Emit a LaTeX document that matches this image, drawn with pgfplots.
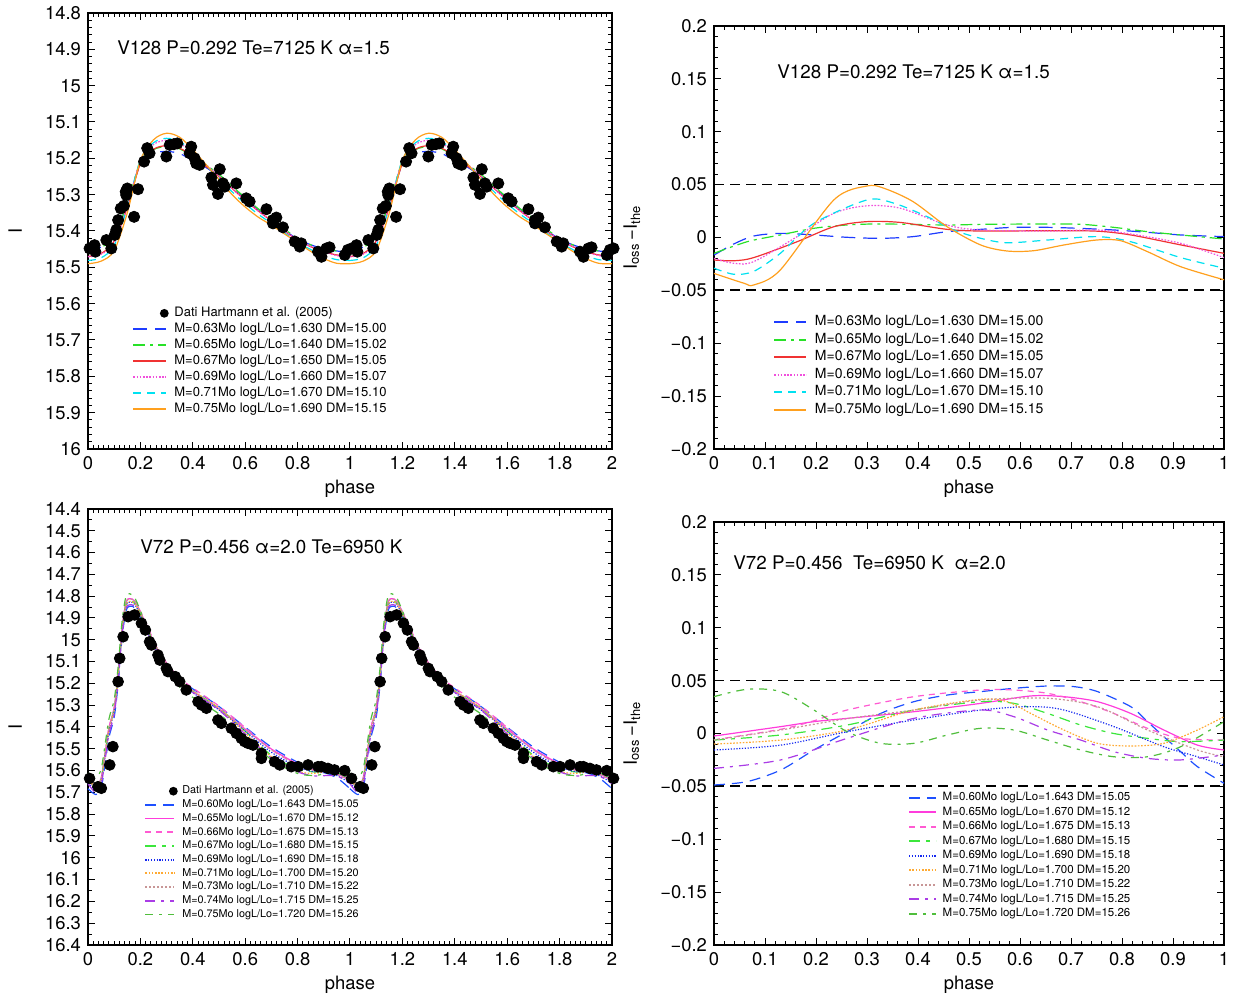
\documentclass[border=0pt]{standalone}
\usepackage{fontspec}
\setmainfont{TeX Gyre Heros}
\usepackage{pgfplots}
\usepackage{pgfplotstable}
\pgfplotsset{compat=1.18}

\definecolor{cBlue}{RGB}{30,60,255}
\definecolor{cGreen}{RGB}{40,225,40}
\definecolor{cRed}{RGB}{240,50,50}
\definecolor{cMag}{RGB}{240,80,220}
\definecolor{cCyan}{RGB}{0,225,240}
\definecolor{cOrange}{RGB}{255,160,30}
\definecolor{dBlue}{RGB}{30,80,255}
\definecolor{dPink}{RGB}{255,60,220}
\definecolor{dPinkD}{RGB}{255,90,210}
\definecolor{dGreen}{RGB}{60,230,60}
\definecolor{dBlueDot}{RGB}{20,40,240}
\definecolor{dOrange}{RGB}{255,170,50}
\definecolor{dRosy}{RGB}{200,150,150}
\definecolor{dPurple}{RGB}{170,60,230}
\definecolor{dGreenB}{RGB}{80,190,60}

\pgfplotstableread{
p I
0.006 15.448
0.025 15.439
0.028 15.457
0.070 15.425
0.089 15.448
0.102 15.411
0.108 15.397
0.115 15.370
0.125 15.338
0.137 15.331
0.144 15.292
0.150 15.283
0.146 15.301
0.176 15.361
0.191 15.285
0.214 15.209
0.226 15.172
0.235 15.186
0.299 15.195
0.312 15.163
0.328 15.161
0.341 15.159
0.394 15.168
0.388 15.186
0.407 15.200
0.413 15.214
0.426 15.218
0.471 15.253
0.477 15.273
0.496 15.298
0.503 15.230
0.515 15.269
0.522 15.278
0.566 15.269
0.604 15.310
0.617 15.319
0.681 15.340
0.706 15.370
0.719 15.363
0.706 15.379
0.744 15.390
0.789 15.429
0.808 15.443
0.814 15.434
0.878 15.457
0.891 15.471
0.910 15.448
0.922 15.445
0.980 15.466
0.992 15.452
}\tldata

\pgfplotstableread{
p m63 m65 m67 m69 m71 m75
0.00 15.460 15.460 15.470 15.471 15.481 15.490
0.05 15.444 15.446 15.462 15.464 15.474 15.483
0.10 15.410 15.412 15.428 15.433 15.440 15.454
0.15 15.325 15.324 15.335 15.332 15.335 15.350
0.20 15.216 15.209 15.215 15.206 15.204 15.206
0.25 15.187 15.176 15.175 15.162 15.157 15.149
0.30 15.181 15.168 15.165 15.150 15.145 15.131
0.35 15.187 15.174 15.172 15.158 15.154 15.142
0.40 15.206 15.195 15.195 15.186 15.183 15.176
0.45 15.225 15.218 15.222 15.217 15.219 15.217
0.50 15.250 15.244 15.250 15.249 15.255 15.258
0.55 15.281 15.277 15.283 15.283 15.292 15.300
0.60 15.311 15.308 15.315 15.315 15.325 15.334
0.65 15.342 15.339 15.345 15.345 15.354 15.362
0.70 15.369 15.366 15.372 15.372 15.379 15.384
0.75 15.398 15.395 15.400 15.399 15.405 15.408
0.80 15.422 15.420 15.425 15.425 15.431 15.432
0.85 15.438 15.438 15.443 15.443 15.451 15.456
0.90 15.449 15.449 15.457 15.457 15.468 15.476
0.95 15.455 15.455 15.466 15.468 15.479 15.489
1.00 15.460 15.460 15.470 15.471 15.481 15.490
}\tlmod

\pgfplotstableread{
p I
0.006 15.636
0.038 15.674
0.051 15.681
0.083 15.574
0.095 15.490
0.115 15.192
0.121 15.085
0.134 14.986
0.153 14.894
0.178 14.886
0.204 14.924
0.219 14.955
0.235 15.009
0.242 15.024
0.267 15.070
0.274 15.093
0.299 15.131
0.305 15.146
0.333 15.169
0.350 15.192
0.375 15.230
0.420 15.284
0.433 15.299
0.452 15.314
0.496 15.368
0.509 15.383
0.547 15.406
0.566 15.429
0.585 15.452
0.598 15.467
0.611 15.475
0.630 15.483
0.662 15.521
0.662 15.544
0.712 15.559
0.732 15.574
0.776 15.582
0.802 15.582
0.840 15.574
0.878 15.582
0.891 15.582
0.916 15.590
0.941 15.597
0.980 15.600
}\bldata

\pgfplotstableread{
p m60 m65 m66 m67 m69 m71 m73 m74 m75
0.00 15.683 15.644 15.641 15.641 15.658 15.632 15.649 15.660 15.612
0.03 15.710 15.670 15.674 15.675 15.685 15.679 15.674 15.701 15.631
0.05 15.682 15.634 15.638 15.639 15.649 15.644 15.638 15.665 15.594
0.065 15.571 15.523 15.527 15.528 15.539 15.533 15.527 15.554 15.483
0.08 15.448 15.402 15.406 15.408 15.418 15.413 15.406 15.433 15.363
0.10 15.355 15.311 15.314 15.317 15.327 15.322 15.314 15.342 15.274
0.115 15.202 15.160 15.162 15.167 15.177 15.172 15.163 15.191 15.125
0.13 14.990 14.949 14.951 14.956 14.966 14.961 14.952 14.980 14.915
0.145 14.868 14.829 14.831 14.838 14.846 14.842 14.832 14.859 14.801
0.16 14.846 14.811 14.812 14.820 14.827 14.824 14.813 14.839 14.789
0.18 14.855 14.825 14.825 14.834 14.840 14.837 14.826 14.850 14.811
0.21 14.922 14.898 14.895 14.906 14.912 14.910 14.899 14.919 14.897
0.25 15.021 15.006 14.999 15.013 15.018 15.016 15.006 15.022 15.015
0.30 15.121 15.117 15.106 15.122 15.126 15.122 15.115 15.127 15.139
0.35 15.184 15.189 15.175 15.190 15.196 15.189 15.187 15.196 15.217
0.40 15.225 15.236 15.221 15.235 15.243 15.234 15.234 15.242 15.264
0.50 15.306 15.317 15.304 15.315 15.322 15.313 15.314 15.323 15.340
0.60 15.401 15.410 15.403 15.419 15.419 15.427 15.411 15.432 15.443
0.70 15.492 15.501 15.504 15.530 15.516 15.536 15.505 15.543 15.550
0.80 15.562 15.569 15.574 15.592 15.583 15.603 15.573 15.606 15.613
0.87 15.600 15.598 15.600 15.607 15.607 15.612 15.601 15.625 15.622
0.92 15.616 15.604 15.601 15.605 15.611 15.600 15.607 15.622 15.608
0.96 15.642 15.620 15.612 15.614 15.628 15.600 15.623 15.630 15.608
1.00 15.683 15.644 15.641 15.641 15.658 15.632 15.649 15.660 15.612
}\blmod

\tikzset{ttl/.style={anchor=west, inner sep=0pt, font=\fontsize{9.4}{11}\selectfont}}
\pgfplotsset{
  common/.style={
    scale only axis, clip=false,
    tick align=inside, tick pos=both,
    major tick length=3.5pt, minor tick length=2pt,
    axis line style={line width=0.6pt},
    every tick/.style={black, line width=0.5pt},
    tick label style={font=\fontsize{9.2}{11}\selectfont},
    label style={font=\fontsize{9.2}{11}\selectfont},
    /pgf/number format/assume math mode=true,
    legend cell align=left,
  },
  crv/.style={line width=0.6pt, smooth, tension=0.5, mark=none},
  lg/.style n args={3}{legend image code/.code={%
    \pgfsetlinewidth{0.9pt}\pgfsetstrokecolor{#1}\pgfsetcolor{#1}\pgfsetdash{#2}{0pt}%
    \pgfpathmoveto{\pgfpointorigin}\pgfpathlineto{\pgfpoint{#3}{0pt}}\pgfusepath{stroke}}},
  dotleg/.style n args={2}{legend image code/.code={%
    \pgfpathmoveto{\pgfpointorigin}\pgfpathlineto{\pgfpoint{#1}{0pt}}\pgfusepath{discard}%
    \pgfsetfillcolor{black}\pgfpathcircle{\pgfpoint{#2}{0pt}}{2.2pt}\pgfusepath{fill}}},
}

\begin{document}
\begin{tikzpicture}
\useasboundingbox (0,0) rectangle (622pt,500pt);

%% ---------------- top left
\begin{axis}[common, at={(44pt,275.5pt)}, anchor=south west,
  width=262pt, height=218pt,
  xmin=0, xmax=2, ymin=14.8, ymax=16, y dir=reverse,
  xtick={0,0.2,0.4,0.6,0.8,1,1.2,1.4,1.6,1.8,2},
  ytick={14.8,14.9,15,15.1,15.2,15.3,15.4,15.5,15.6,15.7,15.8,15.9,16},
  minor x tick num=9, minor y tick num=4,
  xlabel={phase}, ylabel={I},
  xlabel style={at={(axis description cs:0.5,-0.0917)}, anchor=center},
  ylabel style={at={(axis description cs:-0.139,0.5)}, anchor=center},
  legend style={draw=none, fill=none, inner sep=0pt, column sep=2pt,
    at={(axis description cs:0.084,0.3304)}, anchor=north west,
    font=\fontsize{6.5}{7}\selectfont,
    nodes={inner sep=0.85pt, text height=4.8pt, text depth=1.5pt}},
]
\addplot[only marks, mark=*, mark size=2.8pt, black, dotleg={16.5pt}{15.5pt}]
  table[x=p,y=I]{\tldata};
\addlegendentry{Dati Hartmann et al. (2005)}
\addplot[only marks, mark=*, mark size=2.8pt, black, forget plot] table[x expr=\thisrow{p}+1,y=I]{\tldata};
\addplot[only marks, mark=*, mark size=2.8pt, black, forget plot, restrict x to domain=1.99:2.02] table[x expr=\thisrow{p}+2,y=I]{\tldata};

\addplot[crv, cBlue, dash pattern=on 7pt off 4pt, lg={cBlue}{{7pt}{4pt}}{16.5pt}] table[x=p,y=m63]{\tlmod};
\addlegendentry{M=0.63Mo logL/Lo=1.630 DM=15.00}
\addplot[crv, cBlue, dash pattern=on 7pt off 4pt, forget plot] table[x expr=\thisrow{p}+1,y=m63]{\tlmod};
\addplot[crv, cGreen, dash pattern=on 6pt off 2.5pt on 1.5pt off 2.5pt, lg={cGreen}{{6pt}{2.5pt}{1.5pt}{2.5pt}}{16.5pt}] table[x=p,y=m65]{\tlmod};
\addlegendentry{M=0.65Mo logL/Lo=1.640 DM=15.02}
\addplot[crv, cGreen, dash pattern=on 6pt off 2.5pt on 1.5pt off 2.5pt, forget plot] table[x expr=\thisrow{p}+1,y=m65]{\tlmod};
\addplot[crv, cRed, lg={cRed}{}{16.5pt}] table[x=p,y=m67]{\tlmod};
\addlegendentry{M=0.67Mo logL/Lo=1.650 DM=15.05}
\addplot[crv, cRed, forget plot] table[x expr=\thisrow{p}+1,y=m67]{\tlmod};
\addplot[crv, cMag, dash pattern=on 0.8pt off 0.8pt, lg={cMag}{{0.8pt}{0.8pt}}{16.5pt}] table[x=p,y=m69]{\tlmod};
\addlegendentry{M=0.69Mo logL/Lo=1.660 DM=15.07}
\addplot[crv, cMag, dash pattern=on 0.8pt off 0.8pt, forget plot] table[x expr=\thisrow{p}+1,y=m69]{\tlmod};
\addplot[crv, cCyan, dash pattern=on 4pt off 3pt, lg={cCyan}{{4pt}{3pt}}{16.5pt}] table[x=p,y=m71]{\tlmod};
\addlegendentry{M=0.71Mo logL/Lo=1.670 DM=15.10}
\addplot[crv, cCyan, dash pattern=on 4pt off 3pt, forget plot] table[x expr=\thisrow{p}+1,y=m71]{\tlmod};
\addplot[crv, cOrange, lg={cOrange}{}{16.5pt}] table[x=p,y=m75]{\tlmod};
\addlegendentry{M=0.75Mo logL/Lo=1.690 DM=15.15}
\addplot[crv, cOrange, forget plot] table[x expr=\thisrow{p}+1,y=m75]{\tlmod};

\node[ttl] at (axis description cs:0.0553,0.92) {V128 P=0.292 Te=7125 K α=1.5};
\end{axis}

%% ---------------- top right
\begin{axis}[common, at={(357pt,275.5pt)}, anchor=south west,
  width=255pt, height=211.5pt,
  xmin=0, xmax=1, ymin=-0.2, ymax=0.2,
  xtick={0,0.1,0.2,0.3,0.4,0.5,0.6,0.7,0.8,0.9,1},
  ytick={-0.2,-0.15,-0.1,-0.05,0,0.05,0.1,0.15,0.2},
  yticklabels={−0.2,−0.15,−0.1,−0.05,0,0.05,0.1,0.15,0.2},
  minor x tick num=4, minor y tick num=4,
  xlabel={phase}, ylabel={I\textsubscript{oss}\,−I\textsubscript{the}},
  xlabel style={at={(axis description cs:0.5,-0.0946)}, anchor=center},
  ylabel style={at={(axis description cs:-0.161,0.5)}, anchor=center},
  legend style={draw=none, fill=none, inner sep=0pt, column sep=3pt,
    at={(axis description cs:0.1157,0.3213)}, anchor=north west,
    font=\fontsize{7}{8}\selectfont,
    nodes={inner sep=0.875pt, text height=5.3pt, text depth=1.7pt}},
]
\addplot[black, line width=0.6pt, dash pattern=on 5pt off 3pt, forget plot] coordinates {(0,0.05) (1,0.05)};
\addplot[black, line width=0.6pt, dash pattern=on 5pt off 3pt, forget plot] coordinates {(0,-0.0497) (1,-0.0497)};

\addplot[crv, cBlue, dash pattern=on 7pt off 4pt, lg={cBlue}{{7pt}{4pt}}{16pt}] coordinates {(0,-0.0166) (0.039,-0.0061) (0.078,0.0014) (0.13,0.0039) (0.196,0.0024) (0.26,0.0002) (0.327,-0.0008) (0.39,0.0008) (0.457,0.0055) (0.523,0.0077) (0.588,0.0096) (0.654,0.0096) (0.719,0.0086) (0.784,0.0071) (0.85,0.0049) (0.915,0.0024) (1.0,0.0008)};
\addlegendentry{M=0.63Mo logL/Lo=1.630 DM=15.00}
\addplot[crv, cGreen, dash pattern=on 6pt off 2.5pt on 1.5pt off 2.5pt, lg={cGreen}{{6pt}{2.5pt}{1.5pt}{2.5pt}}{16pt}] coordinates {(0,-0.015) (0.065,-0.004) (0.13,0.0024) (0.196,0.0087) (0.26,0.0118) (0.327,0.0128) (0.457,0.0118) (0.523,0.0124) (0.654,0.0128) (0.719,0.0125) (0.784,0.0096) (0.85,0.0055) (0.915,0.0024) (1.0,-0.0014)};
\addlegendentry{M=0.65Mo logL/Lo=1.640 DM=15.02}
\addplot[crv, cRed, lg={cRed}{}{16pt}] coordinates {(0,-0.0213) (0.039,-0.022) (0.078,-0.019) (0.163,-0.004) (0.235,0.0102) (0.30,0.015) (0.366,0.0142) (0.457,0.0077) (0.523,0.0061) (0.654,0.0064) (0.75,0.006) (0.817,0.0024) (0.915,-0.007) (1.0,-0.015)};
\addlegendentry{M=0.67Mo logL/Lo=1.650 DM=15.05}
\addplot[crv, cMag, dash pattern=on 0.8pt off 0.8pt, lg={cMag}{{0.8pt}{0.8pt}}{16pt}] coordinates {(0,-0.0197) (0.039,-0.0244) (0.078,-0.0228) (0.163,0.0008) (0.235,0.0229) (0.30,0.030) (0.366,0.0276) (0.457,0.0118) (0.523,0.0071) (0.654,0.0061) (0.75,0.0071) (0.817,0.0033) (0.915,-0.0055) (1.0,-0.019)};
\addlegendentry{M=0.69Mo logL/Lo=1.660 DM=15.07}
\addplot[crv, cCyan, dash pattern=on 4pt off 3pt, lg={cCyan}{{4pt}{3pt}}{16pt}] coordinates {(0,-0.029) (0.039,-0.0348) (0.078,-0.032) (0.13,-0.015) (0.196,0.0134) (0.30,0.0355) (0.353,0.0324) (0.418,0.0197) (0.47,0.0071) (0.523,-0.0008) (0.575,-0.005) (0.654,-0.0024) (0.75,0.0008) (0.817,-0.004) (0.915,-0.019) (1.0,-0.029)};
\addlegendentry{M=0.71Mo logL/Lo=1.670 DM=15.10}
\addplot[crv, cOrange, lg={cOrange}{}{16pt}] coordinates {(0,-0.034) (0.059,-0.0433) (0.078,-0.0449) (0.13,-0.0307) (0.235,0.0355) (0.30,0.0487) (0.333,0.0466) (0.39,0.034) (0.457,0.0102) (0.523,-0.0071) (0.575,-0.0128) (0.627,-0.0125) (0.686,-0.0071) (0.75,-0.0024) (0.797,-0.003) (0.85,-0.0134) (0.915,-0.0276) (1.0,-0.040)};
\addlegendentry{M=0.75Mo logL/Lo=1.690 DM=15.15}

\node[ttl] at (axis description cs:0.1235,0.891) {V128 P=0.292 Te=7125 K α=1.5};
\end{axis}

%% ---------------- bottom left
\begin{axis}[common, at={(44pt,27.5pt)}, anchor=south west,
  width=262pt, height=218pt,
  xmin=0, xmax=2, ymin=14.4, ymax=16.4, y dir=reverse,
  xtick={0,0.2,0.4,0.6,0.8,1,1.2,1.4,1.6,1.8,2},
  ytick={14.4,14.5,14.6,14.7,14.8,14.9,15,15.1,15.2,15.3,15.4,15.5,15.6,15.7,15.8,15.9,16,16.1,16.2,16.3,16.4},
  minor x tick num=9, minor y tick num=1,
  xlabel={phase}, ylabel={I},
  xlabel style={at={(axis description cs:0.5,-0.0917)}, anchor=center},
  ylabel style={at={(axis description cs:-0.139,0.5)}, anchor=center},
  legend style={draw=none, fill=none, inner sep=0pt, column sep=1.5pt,
    at={(axis description cs:0.107,0.3694)}, anchor=north west,
    font=\fontsize{5.4}{6}\selectfont,
    nodes={inner sep=0.8pt, text height=4pt, text depth=1.25pt}},
]
\addplot[only marks, mark=*, mark size=2.7pt, black, dotleg={14.5pt}{14pt}]
  table[x=p,y=I]{\bldata};
\addlegendentry{Dati Hartmann et al. (2005)}
\addplot[only marks, mark=*, mark size=2.7pt, black, forget plot] table[x expr=\thisrow{p}+1,y=I]{\bldata};
\addplot[only marks, mark=*, mark size=2.7pt, black, forget plot, restrict x to domain=1.99:2.02] table[x expr=\thisrow{p}+2,y=I]{\bldata};

\addplot[crv, dBlue, dash pattern=on 5.5pt off 3.5pt, lg={dBlue}{{5.5pt}{3.5pt}}{14.5pt}] table[x=p,y=m60]{\blmod};
\addlegendentry{M=0.60Mo logL/Lo=1.643 DM=15.05}
\addplot[crv, dBlue, dash pattern=on 5.5pt off 3.5pt, forget plot] table[x expr=\thisrow{p}+1,y=m60]{\blmod};
\addplot[crv, dPink, lg={dPink}{}{14.5pt}] table[x=p,y=m65]{\blmod};
\addlegendentry{M=0.65Mo logL/Lo=1.670 DM=15.12}
\addplot[crv, dPink, forget plot] table[x expr=\thisrow{p}+1,y=m65]{\blmod};
\addplot[crv, dPinkD, dash pattern=on 3pt off 2.5pt, lg={dPinkD}{{3pt}{2.5pt}}{14.5pt}] table[x=p,y=m66]{\blmod};
\addlegendentry{M=0.66Mo logL/Lo=1.675 DM=15.13}
\addplot[crv, dPinkD, dash pattern=on 3pt off 2.5pt, forget plot] table[x expr=\thisrow{p}+1,y=m66]{\blmod};
\addplot[crv, dGreen, dash pattern=on 5.5pt off 3pt on 2pt off 3pt, lg={dGreen}{{5.5pt}{3pt}{2pt}{3pt}}{14.5pt}] table[x=p,y=m67]{\blmod};
\addlegendentry{M=0.67Mo logL/Lo=1.680 DM=15.15}
\addplot[crv, dGreen, dash pattern=on 5.5pt off 3pt on 2pt off 3pt, forget plot] table[x expr=\thisrow{p}+1,y=m67]{\blmod};
\addplot[crv, dBlueDot, dash pattern=on 0.6pt off 0.8pt, lg={dBlueDot}{{0.6pt}{0.8pt}}{14.5pt}] table[x=p,y=m69]{\blmod};
\addlegendentry{M=0.69Mo logL/Lo=1.690 DM=15.18}
\addplot[crv, dBlueDot, dash pattern=on 0.6pt off 0.8pt, forget plot] table[x expr=\thisrow{p}+1,y=m69]{\blmod};
\addplot[crv, dOrange, dash pattern=on 0.8pt off 0.8pt, lg={dOrange}{{0.8pt}{0.8pt}}{14.5pt}] table[x=p,y=m71]{\blmod};
\addlegendentry{M=0.71Mo logL/Lo=1.700 DM=15.20}
\addplot[crv, dOrange, dash pattern=on 0.8pt off 0.8pt, forget plot] table[x expr=\thisrow{p}+1,y=m71]{\blmod};
\addplot[crv, dRosy, dash pattern=on 1pt off 1pt, lg={dRosy}{{1pt}{1pt}}{14.5pt}] table[x=p,y=m73]{\blmod};
\addlegendentry{M=0.73Mo logL/Lo=1.710 DM=15.22}
\addplot[crv, dRosy, dash pattern=on 1pt off 1pt, forget plot] table[x expr=\thisrow{p}+1,y=m73]{\blmod};
\addplot[crv, dPurple, dash pattern=on 5pt off 3pt on 1.5pt off 3pt, lg={dPurple}{{5pt}{3pt}{1.5pt}{3pt}}{14.5pt}] table[x=p,y=m74]{\blmod};
\addlegendentry{M=0.74Mo logL/Lo=1.715 DM=15.25}
\addplot[crv, dPurple, dash pattern=on 5pt off 3pt on 1.5pt off 3pt, forget plot] table[x expr=\thisrow{p}+1,y=m74]{\blmod};
\addplot[crv, dGreenB, dash pattern=on 4pt off 3pt on 1.5pt off 3pt, lg={dGreenB}{{4pt}{3pt}{1.5pt}{3pt}}{14.5pt}] table[x=p,y=m75]{\blmod};
\addlegendentry{M=0.75Mo logL/Lo=1.720 DM=15.26}
\addplot[crv, dGreenB, dash pattern=on 4pt off 3pt on 1.5pt off 3pt, forget plot] table[x expr=\thisrow{p}+1,y=m75]{\blmod};

\node[ttl] at (axis description cs:0.0992,0.913) {V72 P=0.456 α=2.0 Te=6950 K};
\end{axis}

%% ---------------- bottom right
\begin{axis}[common, at={(357pt,27.5pt)}, anchor=south west,
  width=255pt, height=211.5pt,
  xmin=0, xmax=1, ymin=-0.2, ymax=0.2,
  xtick={0,0.1,0.2,0.3,0.4,0.5,0.6,0.7,0.8,0.9,1},
  ytick={-0.2,-0.15,-0.1,-0.05,0,0.05,0.1,0.15,0.2},
  yticklabels={−0.2,−0.15,−0.1,−0.05,0,0.05,0.1,0.15,0.2},
  minor x tick num=4, minor y tick num=4,
  xlabel={phase}, ylabel={I\textsubscript{oss}\,−I\textsubscript{the}},
  xlabel style={at={(axis description cs:0.5,-0.0946)}, anchor=center},
  ylabel style={at={(axis description cs:-0.161,0.5)}, anchor=center},
  legend style={draw=none, fill=none, inner sep=0pt, column sep=2pt,
    at={(axis description cs:0.380,0.366)}, anchor=north west,
    font=\fontsize{5.75}{6.5}\selectfont,
    nodes={inner sep=0.85pt, text height=4.2pt, text depth=1.35pt}},
]
\addplot[black, line width=0.6pt, dash pattern=on 5pt off 3pt, forget plot] coordinates {(0,0.05) (1,0.05)};
\addplot[black, line width=0.6pt, dash pattern=on 5pt off 3pt, forget plot] coordinates {(0,-0.0497) (1,-0.0497)};

\addplot[crv, dBlue, dash pattern=on 5.5pt off 3.5pt, lg={dBlue}{{5.5pt}{3.5pt}}{13.5pt}] coordinates {(0,-0.0487) (0.065,-0.0455) (0.131,-0.0345) (0.196,-0.0156) (0.261,0.0017) (0.327,0.019) (0.392,0.0301) (0.458,0.0364) (0.523,0.0396) (0.588,0.0427) (0.654,0.0449) (0.706,0.0443) (0.752,0.0396) (0.817,0.0254) (0.85,0.0112) (0.882,-0.003) (0.915,-0.0172) (0.948,-0.0314) (1.0,-0.0471)};
\addlegendentry{M=0.60Mo logL/Lo=1.643 DM=15.05}
\addplot[crv, dPink, lg={dPink}{}{13.5pt}] coordinates {(0,-0.0024) (0.131,0.0065) (0.196,0.0112) (0.261,0.0143) (0.392,0.0206) (0.523,0.0285) (0.621,0.0355) (0.686,0.0348) (0.752,0.0301) (0.817,0.019) (0.882,0.0033) (0.948,-0.011) (1.0,-0.0156)};
\addlegendentry{M=0.65Mo logL/Lo=1.670 DM=15.12}
\addplot[crv, dPinkD, dash pattern=on 3pt off 2.5pt, lg={dPinkD}{{3pt}{2.5pt}}{13.5pt}] coordinates {(0,-0.006) (0.131,0.004) (0.196,0.012) (0.261,0.0222) (0.392,0.0348) (0.523,0.0411) (0.588,0.0411) (0.654,0.038) (0.719,0.0301) (0.784,0.019) (0.85,0.0049) (0.915,-0.0046) (1.0,-0.0062)};
\addlegendentry{M=0.66Mo logL/Lo=1.675 DM=15.13}
\addplot[crv, dGreen, dash pattern=on 5.5pt off 3pt on 2pt off 3pt, lg={dGreen}{{5.5pt}{3pt}{2pt}{3pt}}{13.5pt}] coordinates {(0,-0.0062) (0.131,-0.0014) (0.261,0.008) (0.392,0.0222) (0.523,0.0301) (0.588,0.0285) (0.654,0.019) (0.719,0.008) (0.784,0.0) (0.85,-0.0046) (0.915,-0.0077) (1.0,-0.0062)};
\addlegendentry{M=0.67Mo logL/Lo=1.680 DM=15.15}
\addplot[crv, dBlueDot, dash pattern=on 0.6pt off 0.8pt, lg={dBlueDot}{{0.6pt}{0.8pt}}{13.5pt}] coordinates {(0,-0.0156) (0.131,-0.011) (0.261,0.0017) (0.392,0.0128) (0.523,0.0222) (0.621,0.0254) (0.686,0.0222) (0.784,0.0065) (0.882,-0.0125) (0.948,-0.022) (1.0,-0.0298)};
\addlegendentry{M=0.69Mo logL/Lo=1.690 DM=15.18}
\addplot[crv, dOrange, dash pattern=on 0.8pt off 0.8pt, lg={dOrange}{{0.8pt}{0.8pt}}{13.5pt}] coordinates {(0,-0.01) (0.131,-0.0062) (0.261,0.0033) (0.392,0.0222) (0.523,0.0323) (0.575,0.0301) (0.621,0.019) (0.686,0.0033) (0.752,-0.0093) (0.817,-0.0118) (0.882,-0.0093) (0.948,0.0033) (1.0,0.0159)};
\addlegendentry{M=0.71Mo logL/Lo=1.700 DM=15.20}
\addplot[crv, dRosy, dash pattern=on 1pt off 1pt, lg={dRosy}{{1pt}{1pt}}{13.5pt}] coordinates {(0,-0.0062) (0.131,0.0033) (0.261,0.014) (0.392,0.0222) (0.523,0.0317) (0.654,0.0333) (0.752,0.0254) (0.85,0.0033) (0.948,-0.0156) (1.0,-0.022)};
\addlegendentry{M=0.73Mo logL/Lo=1.710 DM=15.22}
\addplot[crv, dPurple, dash pattern=on 5pt off 3pt on 1.5pt off 3pt, lg={dPurple}{{5pt}{3pt}{1.5pt}{3pt}}{13.5pt}] coordinates {(0,-0.033) (0.131,-0.025) (0.261,-0.0046) (0.392,0.0143) (0.523,0.0222) (0.588,0.0159) (0.654,0.0033) (0.719,-0.0062) (0.784,-0.0172) (0.85,-0.0235) (0.915,-0.025) (1.0,-0.0203)};
\addlegendentry{M=0.74Mo logL/Lo=1.715 DM=15.25}
\addplot[crv, dGreenB, dash pattern=on 4pt off 3pt on 1.5pt off 3pt, lg={dGreenB}{{4pt}{3pt}{1.5pt}{3pt}}{13.5pt}] coordinates {(0,0.0348) (0.065,0.0418) (0.131,0.0396) (0.196,0.0222) (0.261,0.0017) (0.327,-0.0093) (0.392,-0.0093) (0.458,-0.0014) (0.523,0.0049) (0.588,0.0033) (0.654,-0.0062) (0.719,-0.0156) (0.784,-0.022) (0.85,-0.022) (0.915,-0.0125) (1.0,0.0112)};
\addlegendentry{M=0.75Mo logL/Lo=1.720 DM=15.26}

\node[ttl] at (axis description cs:0.0373,0.903) {V72 P=0.456\ \ Te=6950 K\ \ α=2.0};
\end{axis}
\end{tikzpicture}
\end{document}
